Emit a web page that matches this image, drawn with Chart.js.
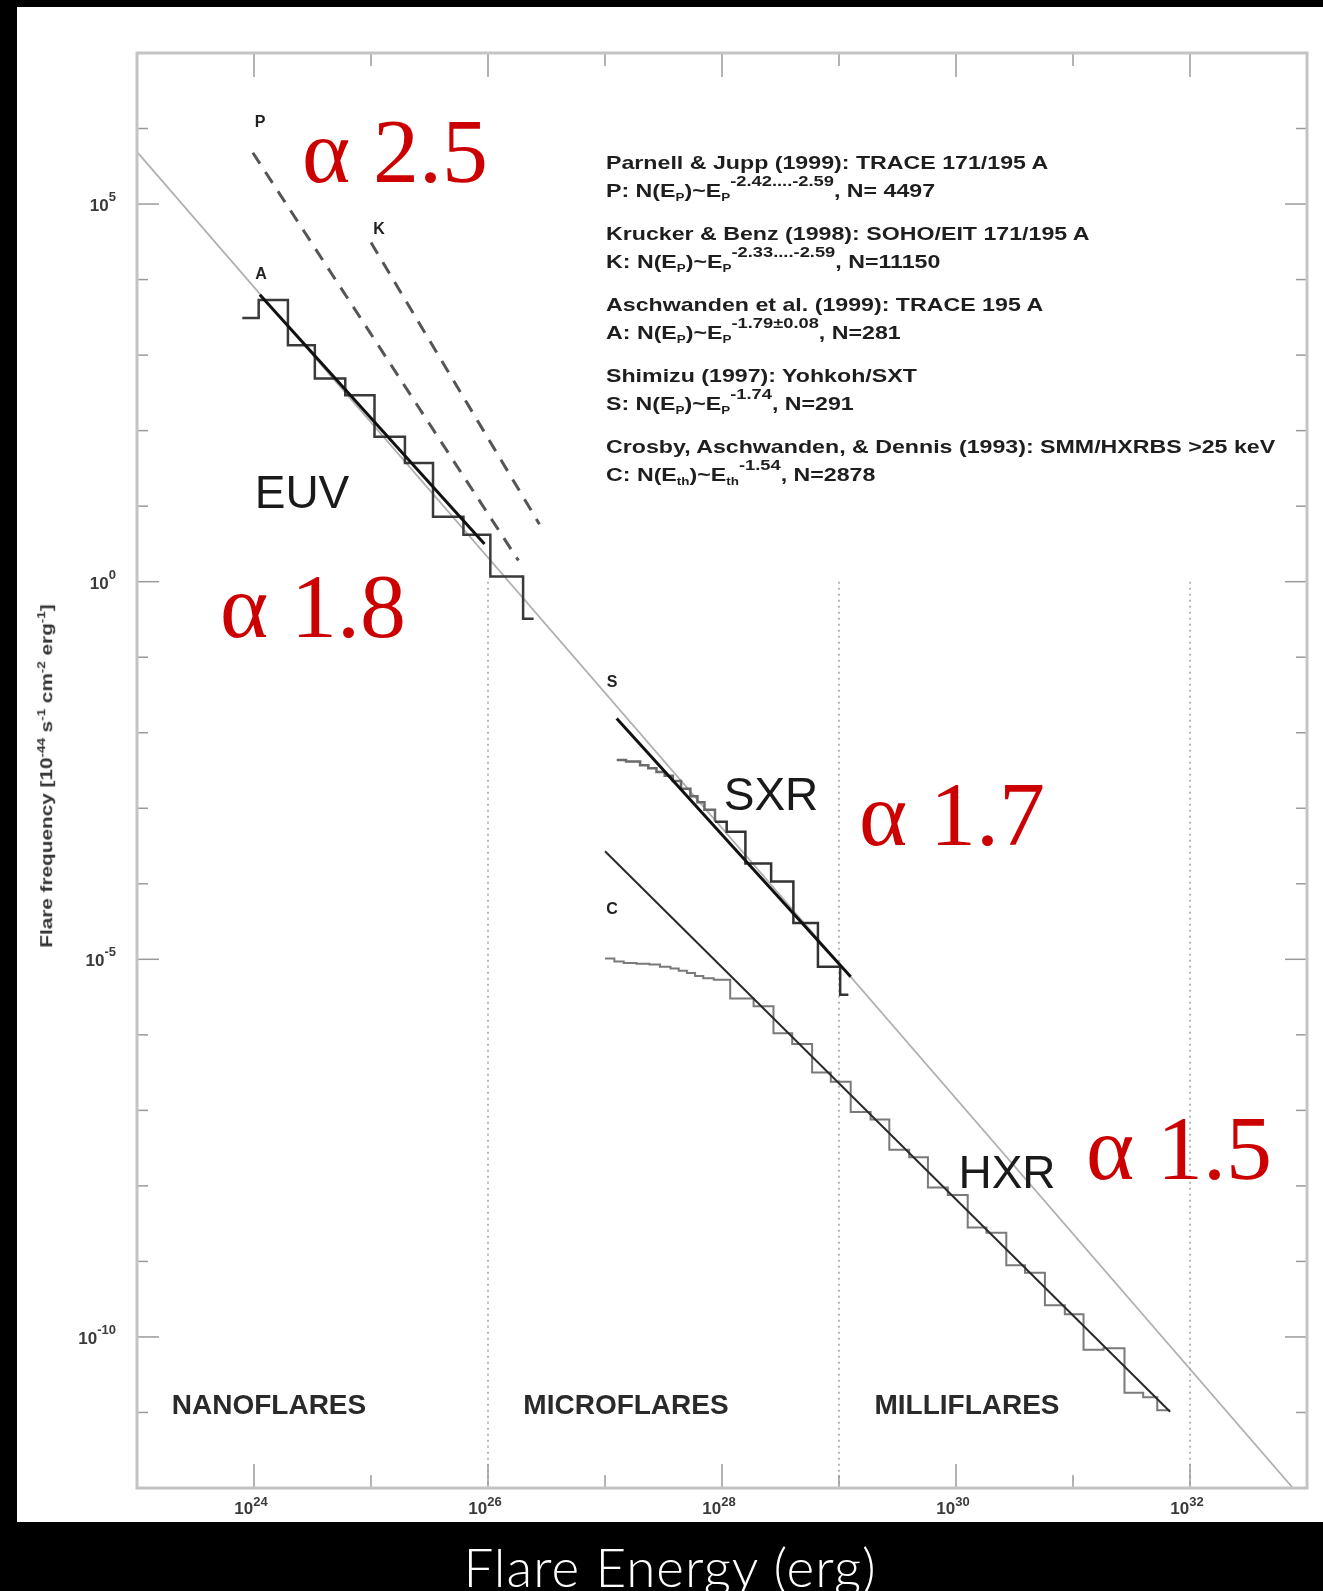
<!DOCTYPE html>
<html>
<head>
<meta charset="utf-8">
<script src="https://cdn.jsdelivr.net/npm/chart.js@4.4.1/dist/chart.umd.min.js"></script>
<style>
  body { margin: 0; background: #000; width: 1323px; height: 1591px; overflow: hidden; position: relative;
         font-family: "Liberation Sans", Arial, sans-serif; }
  #slide { position: absolute; left: 17px; top: 7px; width: 1306px; height: 1515px; background: #fff; }
  #chart { position: absolute; left: 0; top: 0; }
  .c { position: absolute; white-space: nowrap; line-height: 1; transform: translate(-50%, -50%); }
  .tag { font-weight: bold; font-size: 16px; color: #222; }
  .band { font-size: 46px; color: #1a1a1a; }
  .zone { font-weight: bold; font-size: 28px; color: #2a2a2a; }
  .alpha { font-family: "Liberation Serif", "Times New Roman", serif; font-size: 92px; color: #cc0000; }
  #legend { position: absolute; left: 606px; top: 0; color: #1e1e1e; font-weight: bold; font-size: 19px;
            transform-origin: 0 0; transform: scale(1.22, 1); }
  #legend div { position: absolute; left: 0; white-space: nowrap; line-height: 19px; }
  #legend sub { font-size: 11px; vertical-align: baseline; position: relative; top: 4px; }
  #legend sup { font-size: 15px; vertical-align: baseline; position: relative; top: -11px; }
  #ytitle { position: absolute; left: 46px; top: 776px; white-space: nowrap; font-weight: bold; font-size: 17px;
            color: #333; transform: translate(-50%, -50%) rotate(-90deg) scale(1.22, 1); }
  #ytitle sup { font-size: 11px; }
  #xtitle { position: absolute; left: 670px; top: 1566px; transform: translate(-50%, -50%); color: #fff;
            font-family: Lato, "Open Sans", sans-serif; font-weight: 300; font-size: 53px; letter-spacing: 1px;
            white-space: nowrap; line-height: 1; }
</style>
</head>
<body>
<div id="slide"></div>
<canvas id="chart" width="1323" height="1591"></canvas>

<div class="c tag" style="left:260px;top:122px">P</div>
<div class="c tag" style="left:379px;top:229px">K</div>
<div class="c tag" style="left:261px;top:274px">A</div>
<div class="c tag" style="left:612px;top:682px">S</div>
<div class="c tag" style="left:612px;top:909px">C</div>

<div class="c band" style="left:302px;top:492px">EUV</div>
<div class="c band" style="left:771px;top:794px">SXR</div>
<div class="c band" style="left:1007px;top:1172px">HXR</div>

<div class="c zone" style="left:269px;top:1405px">NANOFLARES</div>
<div class="c zone" style="left:626px;top:1405px">MICROFLARES</div>
<div class="c zone" style="left:967px;top:1405px">MILLIFLARES</div>

<div class="c alpha" style="left:395px;top:151px">α 2.5</div>
<div class="c alpha" style="left:313px;top:606px">α 1.8</div>
<div class="c alpha" style="left:952px;top:814px">α 1.7</div>
<div class="c alpha" style="left:1179px;top:1148px">α 1.5</div>

<div id="legend"></div>
<div id="ytitle">Flare frequency [10<sup>-44</sup> s<sup>-1</sup> cm<sup>-2</sup> erg<sup>-1</sup>]</div>
<div id="xtitle">Flare Energy (erg)</div>

<script>
// everything below is in log10 units (exponents)
const xTickExps = [23, 24, 25, 26, 27, 28, 29, 30, 31, 32, 33];
const xLabelExps = [24, 26, 28, 30, 32];
const yTickExps = [-12, -11, -10, -9, -8, -7, -6, -5, -4, -3, -2, -1, 0, 1, 2, 3, 4, 5, 6, 7];
const yLabelExps = [5, 0, -5, -10];

// grey reference power law and the dashed P / K fits
const refLine = [[23.00, 5.69], [32.88, -12.0]];
const parnellP = [[23.99, 5.68], [26.26, 0.28]];
const kruckerK = [[25.00, 4.49], [26.44, 0.76]];

// EUV (A)
const euvFit = [[24.05, 3.80], [25.97, 0.50]];
const euvEdges = [23.90, 24.04, 24.29, 24.52, 24.78, 25.03, 25.29, 25.53, 25.79, 26.02, 26.30, 26.39];
const euvCounts = [3.49, 3.73, 3.13, 2.69, 2.47, 1.92, 1.57, 0.86, 0.62, 0.07, -0.49];

// SXR (S)
const sxrFit = [[27.10, -1.81], [29.10, -5.23]];
const sxrEdges = [27.10, 27.18, 27.30, 27.37, 27.44, 27.51, 27.58, 27.65, 27.73, 27.79, 27.85, 27.94,
                  28.04, 28.20, 28.42, 28.61, 28.82, 29.01, 29.08];
const sxrCounts = [-2.36, -2.38, -2.43, -2.47, -2.52, -2.57, -2.64, -2.74, -2.84, -2.92, -3.02, -3.18,
                   -3.31, -3.73, -3.97, -4.52, -5.10, -5.47];
const sxrRollover = 27.9;

// HXR (C)
const hxrFit = [[27.00, -3.57], [31.83, -10.99]];
const hxrEdges = [27.00, 27.08, 27.16, 27.27, 27.38, 27.47, 27.56, 27.63, 27.70, 27.77, 27.84, 27.93,
                  28.07, 28.27, 28.44, 28.60, 28.77, 28.93, 29.10, 29.27, 29.43, 29.60, 29.76, 29.93,
                  30.10, 30.26, 30.43, 30.59, 30.76, 30.93, 31.09, 31.26, 31.44, 31.60, 31.72, 31.83];
const hxrCounts = [-4.99, -5.03, -5.05, -5.06, -5.07, -5.10, -5.12, -5.15, -5.18, -5.22, -5.25, -5.27,
                   -5.52, -5.62, -5.98, -6.12, -6.50, -6.62, -7.02, -7.12, -7.52, -7.62, -8.02, -8.12,
                   -8.55, -8.62, -9.05, -9.15, -9.58, -9.70, -10.17, -10.15, -10.74, -10.80, -10.97];

// nano / micro / milli boundaries (dotted)
const zoneBounds = [26, 29, 32];
const zoneTop = 0;

// legend text
const legendTitles = [
  "Parnell & Jupp (1999): TRACE 171/195 A",
  "Krucker & Benz (1998): SOHO/EIT 171/195 A",
  "Aschwanden et al. (1999): TRACE 195 A",
  "Shimizu (1997): Yohkoh/SXT",
  "Crosby, Aschwanden, & Dennis (1993): SMM/HXRBS >25 keV"
];
const legendKeys = ["P", "K", "A", "S", "C"];
const legendSubs = ["P", "P", "P", "P", "th"];
const legendSlopes = ["-2.42....-2.59", "-2.33....-2.59", "-1.79\u00b10.08", "-1.74", "-1.54"];
const legendCounts = ["N= 4497", "N=11150", "N=281", "N=291", "N=2878"];

// legend block
const legendEl = document.getElementById("legend");
legendTitles.forEach((t, i) => {
  const top = 162 + 71 * i - 9;
  const a = document.createElement("div");
  a.style.top = top + "px";
  a.textContent = t;
  legendEl.appendChild(a);
  const b = document.createElement("div");
  b.style.top = (top + 28) + "px";
  const s = legendSubs[i];
  b.innerHTML = `${legendKeys[i]}: N(E<sub>${s}</sub>)~E<sub>${s}</sub><sup>${legendSlopes[i]}</sup>, ${legendCounts[i]}`;
  legendEl.appendChild(b);
});

const pts = list => list.map(([e, v]) => ({ x: 10 ** e, y: 10 ** v }));
// histogram: each edge carries the value of the bin to its right, last edge closes the bin
const steps = (edges, counts) =>
  edges.map((e, i) => ({ x: 10 ** e, y: 10 ** counts[Math.min(i, counts.length - 1)] }));

// the low-energy roll-over of the SXR histogram is printed lighter
const sxrSegment = { borderColor: c => (c.p0.parsed.x < 10 ** sxrRollover ? "#6a6a6a" : "#333") };

const datasets = [
  { data: pts(refLine), borderColor: "#b0b0b0", borderWidth: 1.8, order: 10 },
  { data: pts(parnellP), borderColor: "#555", borderWidth: 3, borderDash: [13, 10], order: 5 },
  { data: pts(kruckerK), borderColor: "#555", borderWidth: 3, borderDash: [13, 10], order: 5 },
  { data: steps(euvEdges, euvCounts), borderColor: "#3a3a3a", borderWidth: 2.5, stepped: "before", order: 3 },
  { data: pts(euvFit), borderColor: "#111", borderWidth: 3, order: 2 },
  { data: steps(sxrEdges, sxrCounts), borderColor: "#333", borderWidth: 2.5, stepped: "before", order: 3,
    segment: sxrSegment },
  { data: pts(sxrFit), borderColor: "#111", borderWidth: 3, order: 2 },
  { data: steps(hxrEdges, hxrCounts), borderColor: "#7a7a7a", borderWidth: 2, stepped: "before", order: 3 },
  { data: pts(hxrFit), borderColor: "#2a2a2a", borderWidth: 2, order: 2 }
];
zoneBounds.forEach(e => {
  datasets.push({ data: pts([[e, zoneTop], [e, -12]]), borderColor: "#a0a0a0", borderWidth: 1.5,
                  borderDash: [2, 4], order: 8 });
});

// frame, inward ticks and the 10^n labels, placed through the scales
const framePlugin = {
  id: "frame",
  afterDatasetsDraw(chart) {
    const { ctx, chartArea: a, scales: { x, y } } = chart;
    ctx.save();
    ctx.strokeStyle = "#9a9a9a";
    ctx.lineWidth = 1.5;
    const seg = (x1, y1, x2, y2) => { ctx.beginPath(); ctx.moveTo(x1, y1); ctx.lineTo(x2, y2); ctx.stroke(); };
    xTickExps.forEach(e => {
      const px = x.getPixelForValue(10 ** e);
      const len = xLabelExps.includes(e) ? 24 : 13;
      seg(px, a.bottom, px, a.bottom - len);
      seg(px, a.top, px, a.top + len);
    });
    yTickExps.forEach(e => {
      const py = y.getPixelForValue(10 ** e);
      const len = yLabelExps.includes(e) ? 22 : 11;
      seg(a.left, py, a.left + len, py);
      seg(a.right, py, a.right - len, py);
    });
    ctx.strokeStyle = "#c4c4c4";
    ctx.lineWidth = 3;
    ctx.strokeRect(a.left, a.top, a.right - a.left, a.bottom - a.top);

    ctx.fillStyle = "#3a3a3a";
    const base = "bold 17px 'Liberation Sans', Arial, sans-serif";
    const sup = "bold 13px 'Liberation Sans', Arial, sans-serif";
    ctx.textBaseline = "alphabetic";
    ctx.textAlign = "left";
    yLabelExps.forEach(e => {
      const py = y.getPixelForValue(10 ** e);
      ctx.font = sup; const w2 = ctx.measureText(String(e)).width;
      ctx.font = base; const w1 = ctx.measureText("10").width;
      const right = a.left - 21;
      ctx.fillText("10", right - w2 - w1, py + 7);
      ctx.font = sup; ctx.fillText(String(e), right - w2, py - 3);
    });
    xLabelExps.forEach(e => {
      const px = x.getPixelForValue(10 ** e);
      ctx.font = sup; const w2 = ctx.measureText(String(e)).width;
      ctx.font = base; const w1 = ctx.measureText("10").width;
      const left = px - (w1 + w2) / 2 - 3;
      ctx.fillText("10", left, a.bottom + 26);
      ctx.font = sup; ctx.fillText(String(e), left + w1, a.bottom + 18);
    });
    ctx.restore();
  }
};

new Chart(document.getElementById("chart").getContext("2d"), {
  type: "line",
  data: { datasets },
  options: {
    responsive: false,
    animation: false,
    events: [],
    layout: { padding: { left: 137, right: 16, top: 53, bottom: 103 } },
    elements: { point: { radius: 0 }, line: { tension: 0, fill: false } },
    plugins: { legend: { display: false }, tooltip: { enabled: false } },
    scales: {
      x: { type: "logarithmic", min: 1e23, max: 1e33, display: false },
      y: { type: "logarithmic", min: 1e-12, max: 1e7, display: false }
    }
  },
  plugins: [framePlugin]
});
</script>
</body>
</html>
